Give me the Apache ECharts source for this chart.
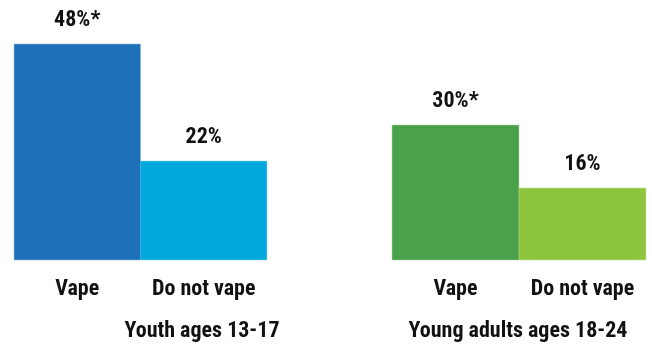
<!DOCTYPE html>
<html><head><meta charset="utf-8">
<script src="https://cdn.jsdelivr.net/npm/echarts@6/dist/echarts.min.js"></script>
<style>html,body{margin:0;padding:0;background:#fff}#c{width:652px;height:345px}</style>
</head><body><div id="c"></div>
<script>
const groups = ['Youth ages 13-17', 'Young adults ages 18-24'];
const categories = ['Vape', 'Do not vape'];
const youthValues = [48, 22];
const youthLabels = ['48%*', '22%'];
const adultValues = [30, 16];
const adultLabels = ['30%*', '16%'];
const youthColors = ['#1e70b9', '#00a8dd'];
const adultColors = ['#4aa14a', '#8dc53f'];

const FONT = "'Roboto Condensed', 'Open Sans', sans-serif";
const chart = echarts.init(document.getElementById('c'), null, {renderer: 'canvas'});

function mk(vals, labels, colors) {
  return vals.map((v, i) => ({
    value: v,
    itemStyle: {color: colors[i], borderColor: colors[i], borderWidth: 0.6},
    label: {formatter: labels[i]}
  }));
}
const xAx = (gi) => ({
  type: 'category', gridIndex: gi, data: categories,
  axisLine: {show: false}, axisTick: {show: false},
  axisLabel: {interval: 0, fontFamily: FONT, fontWeight: 'bold', fontSize: 22, color: '#111', margin: 18}
});
const yAx = (gi) => ({
  type: 'value', gridIndex: gi, min: 0, max: 50, show: false, splitLine: {show: false}
});
const ser = (gi, data) => ({
  type: 'bar', xAxisIndex: gi, yAxisIndex: gi, data: data,
  barWidth: '100%', barCategoryGap: 0, animation: false,
  label: {show: true, position: 'top', distance: 13, fontFamily: FONT, fontWeight: 'bold', fontSize: 22, color: '#111'}
});

chart.setOption({
  animation: false,
  grid: [
    {left: 14, width: 253, top: 35, bottom: 85},
    {left: 392, width: 254, top: 35, bottom: 85}
  ],
  xAxis: [xAx(0), xAx(1)],
  yAxis: [yAx(0), yAx(1)],
  series: [ser(0, mk(youthValues, youthLabels, youthColors)), ser(1, mk(adultValues, adultLabels, adultColors))],
  graphic: [
    {type: 'text', x: 202, y: 331, style: {text: groups[0], font: "bold 22px " + FONT, fill: '#111', textAlign: 'center', textVerticalAlign: 'middle'}},
    {type: 'text', x: 518, y: 331, style: {text: groups[1], font: "bold 22px " + FONT, fill: '#111', textAlign: 'center', textVerticalAlign: 'middle'}}
  ]
});
</script></body></html>
